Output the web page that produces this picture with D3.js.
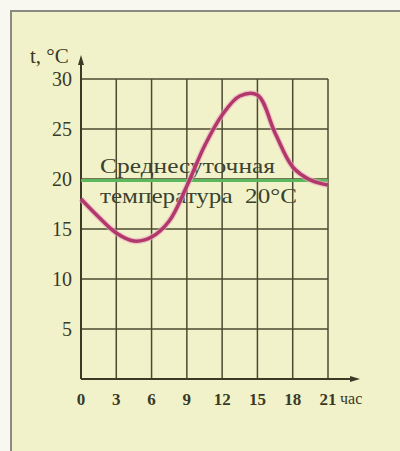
<!DOCTYPE html>
<html><head><meta charset="utf-8">
<script src="https://cdn.jsdelivr.net/npm/d3@7"></script>
<style>body{margin:0;background:#f7f7ee}</style>
</head><body>
<script>
const hours = [0,1.5,3,4.5,6,7.5,9,10.5,12,13.5,15,16.5,18,19.5,21];
const temps = [18,16.2,14.6,13.8,14.2,15.8,19.3,23.3,26.4,28.3,28.4,24.6,21.2,19.9,19.4];
const xTicks = [0,3,6,9,12,15,18,21];
const yTicks = [5,10,15,20,25,30];
const meanTemp = 20;
const labelLines = ["Среднесуточная","температура  20°С"];

const W=400,H=451;
const svg=d3.select("body").append("svg").attr("width",W).attr("height",H);
svg.append("rect").attr("x",0).attr("y",0).attr("width",W).attr("height",H).attr("fill","#f8f8f0");
svg.append("rect").attr("x",11).attr("y",11).attr("width",W+10).attr("height",H+10)
  .attr("fill","#f1f2c9").attr("stroke","#8a8a80").attr("stroke-width",2);

const x=d3.scaleLinear().domain([0,21]).range([81,328]);
const y=d3.scaleLinear().domain([0,30]).range([379,79]);
const gridC="#4b4a30";
const g=svg.append("g");
g.selectAll(".vg").data(xTicks.slice(1)).join("line")
 .attr("x1",d=>x(d)).attr("x2",d=>x(d)).attr("y1",y(0)).attr("y2",y(30))
 .attr("stroke",gridC).attr("stroke-width",1.5);
g.selectAll(".hg").data(yTicks).join("line")
 .attr("x1",x(0)).attr("x2",x(21)).attr("y1",d=>y(d)).attr("y2",d=>y(d))
 .attr("stroke",gridC).attr("stroke-width",1.5);
g.append("line").attr("x1",x(0)).attr("x2",357).attr("y1",y(0)).attr("y2",y(0)).attr("stroke","#3a3a25").attr("stroke-width",2);
g.append("line").attr("x1",x(0)).attr("x2",x(0)).attr("y1",y(0)).attr("y2",58).attr("stroke","#3a3a25").attr("stroke-width",2);
g.append("path").attr("d",`M${360},${y(0)} l-10,-3 l0,6 z`).attr("fill","#3a3a25");
g.append("path").attr("d",`M${x(0)},55 l-3,10 l6,0 z`).attr("fill","#3a3a25");

g.append("line").attr("x1",x(0)).attr("x2",x(21)).attr("y1",y(meanTemp)+1.5).attr("y2",y(meanTemp)+1.5)
 .attr("stroke","#5cb85c").attr("stroke-width",3);

const tc="#3b4330";
const lens=[175,197];
g.selectAll(".lab").data(labelLines).join("text")
 .attr("x",100).attr("y",(d,i)=>173+i*30)
 .attr("font-family","Liberation Serif").attr("font-size",22).attr("fill",tc)
 .attr("textLength",(d,i)=>lens[i]).attr("lengthAdjust","spacingAndGlyphs")
 .attr("xml:space","preserve").style("white-space","pre").text(d=>d);

const line=d3.line().x((d,i)=>x(hours[i])).y(d=>y(d)).curve(d3.curveCatmullRom);
g.append("path").datum(temps).attr("d",line).attr("fill","none").attr("stroke","#e9a8c0").attr("stroke-width",6).attr("opacity",0.6);
g.append("path").datum(temps).attr("d",line).attr("fill","none").attr("stroke","#b2386c").attr("stroke-width",3.5);

g.selectAll(".yt").data(yTicks).join("text")
 .attr("x",72).attr("y",d=>y(d)+7).attr("text-anchor","end")
 .attr("font-family","Liberation Serif").attr("font-size",20).attr("fill","#3a3a28").text(d=>d);
g.selectAll(".xt").data(xTicks).join("text")
 .attr("x",d=>x(d)).attr("y",405).attr("text-anchor","middle")
 .attr("font-family","Liberation Serif").attr("font-size",17).attr("font-weight","bold").attr("fill","#3a3a28").text(d=>d);
g.append("text").attr("x",340).attr("y",404).attr("font-family","Liberation Serif").attr("font-size",16).attr("fill","#3a3a28").text("час");
g.append("text").attr("x",30).attr("y",63).attr("font-family","Liberation Serif").attr("font-size",21).attr("fill","#3a3a28").text("t, °C");
</script>
</body></html>
